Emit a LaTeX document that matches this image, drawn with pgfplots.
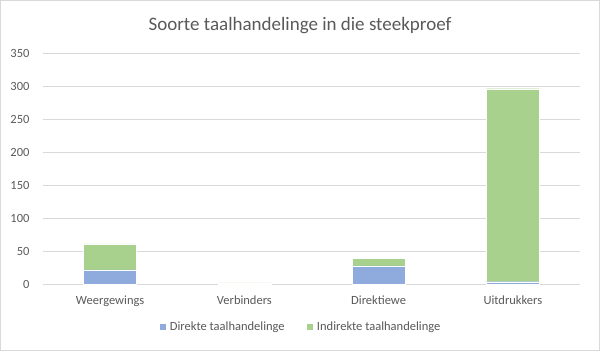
\documentclass[border=0pt]{standalone}
\usepackage{pgfplots}
\pgfplotsset{compat=1.18}
\usepackage{fontspec}
\setmainfont{Carlito}
\definecolor{txt}{HTML}{595959}
\definecolor{gridc}{HTML}{D9D9D9}
\definecolor{blu}{HTML}{8FAADC}
\definecolor{grn}{HTML}{A9D18E}
\begin{document}
\begin{tikzpicture}[x=1pt,y=1pt]
\path[use as bounding box] (0,0) rectangle (600,351);
\draw[gridc, line width=0.8pt] (0.5,0.5) rectangle (599.5,350.5);
\node[txt, font=\fontsize{19}{22}\selectfont] at (300,325) {Soorte taalhandelinge in die steekproef};
\begin{axis}[
  at={(43pt,66.7pt)}, anchor=south west,
  scale only axis, width=537pt, height=231.3pt,
  ybar stacked, bar width=53pt,
  xmin=-0.5, xmax=3.5, ymin=0, ymax=350,
  xtick={0,1,2,3},
  xticklabels={Weergewings,Verbinders,Direktiewe,Uitdrukkers},
  ytick={0,50,...,350},
  ymajorgrids, grid style={gridc, line width=0.8pt},
  axis line style={draw=none},
  axis x line*=bottom,
  x axis line style={gridc, line width=0.8pt},
  major tick length=0pt,
  tick label style={txt, font=\fontsize{12.5}{14}\selectfont},
  /pgf/number format/assume math mode=true,
  yticklabel style={xshift=-10pt},
  xticklabel style={yshift=-8pt},
  legend style={at={(0.4795,-0.152)}, anchor=north, draw=none, legend columns=2,
    font=\fontsize{12.5}{14}\selectfont, text=txt, inner sep=0pt,
    /tikz/every even column/.append style={column sep=19pt},
    /tikz/every odd column/.append style={column sep=2pt}},
  legend cell align=left,
  legend image code/.code={\fill[#1] (0pt,-3.5pt) rectangle (7pt,3.5pt);},
]
\addplot[fill=blu, draw=white, line width=0.3pt] coordinates {(0,22) (1,0) (2,28) (3,4)};
\addplot[fill=grn, draw=white, line width=0.3pt] coordinates {(0,39) (1,2) (2,11) (3,292)};
\legend{Direkte taalhandelinge, Indirekte taalhandelinge}
\end{axis}
\end{tikzpicture}
\end{document}
